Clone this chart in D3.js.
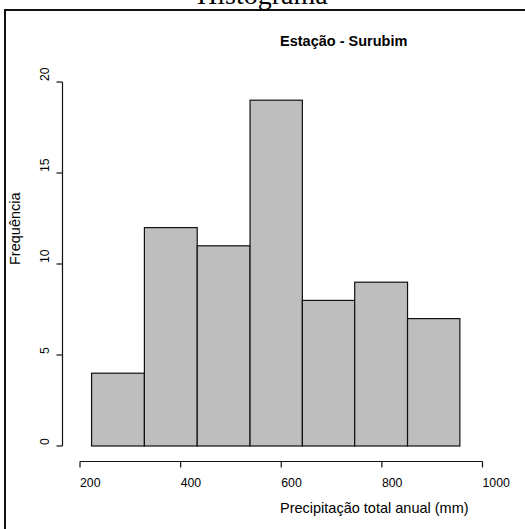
<!DOCTYPE html>
<html>
<head>
<meta charset="utf-8">
<script src="https://cdn.jsdelivr.net/npm/d3@7"></script>
<style>
  html, body { margin: 0; padding: 0; background: #fff; }
  svg { display: block; }
</style>
</head>
<body>
<script>
// Histogram of annual total precipitation, Surubim station
const breaks = [223, 328, 433, 538, 642, 746, 851, 955];
const counts = [4, 12, 11, 19, 8, 9, 7];
const xTicks = [200, 400, 600, 800, 1000];
const yTicks = [0, 5, 10, 15, 20];

const W = 525, H = 529;
const svg = d3.select("body").append("svg").attr("width", W).attr("height", H);

// outer frame (right and bottom sides fall outside the view)
svg.append("path")
  .attr("d", "M5,529 L5,10 L525,10")
  .attr("fill", "none").attr("stroke", "#111").attr("stroke-width", 2);

// page heading, partly clipped at the top
svg.append("text")
  .attr("x", 197).attr("y", 4)
  .attr("font-family", "'Liberation Serif', 'Times New Roman', serif")
  .attr("font-size", 28)
  .attr("fill", "#000")
  .text("Histograma");

const x = d3.scaleLinear().domain([200, 1000]).range([80, 482.5]);
const y = d3.scaleLinear().domain([0, 20]).range([446, 82]);

const bins = counts.map((c, i) => ({ x0: breaks[i], x1: breaks[i + 1], n: c }));

svg.append("g").selectAll("rect").data(bins).join("rect")
  .attr("x", d => x(d.x0))
  .attr("y", d => y(d.n))
  .attr("width", d => x(d.x1) - x(d.x0))
  .attr("height", d => y(0) - y(d.n))
  .attr("fill", "#bebebe")
  .attr("stroke", "#111")
  .attr("stroke-width", 1.2);

const sans = "'Liberation Sans', Arial, sans-serif";

// x axis
const xAxis = svg.append("g").attr("transform", "translate(0,461.5)");
xAxis.append("line")
  .attr("x1", x(xTicks[0])).attr("x2", x(xTicks[xTicks.length - 1]))
  .attr("stroke", "#111").attr("stroke-width", 1.2);
xAxis.selectAll("line.tick").data(xTicks).join("line")
  .attr("class", "tick")
  .attr("x1", d => x(d)).attr("x2", d => x(d))
  .attr("y1", 0).attr("y2", 6)
  .attr("stroke", "#111").attr("stroke-width", 1.2);
xAxis.selectAll("text").data(xTicks).join("text")
  .attr("x", d => x(d)).attr("y", 25.5)
  .attr("font-family", sans).attr("font-size", 12.3).attr("fill", "#000")
  .text(d => d);

// y axis
const yAxis = svg.append("g").attr("transform", "translate(62.5,0)");
yAxis.append("line")
  .attr("y1", y(yTicks[0])).attr("y2", y(yTicks[yTicks.length - 1]))
  .attr("stroke", "#111").attr("stroke-width", 1.2);
yAxis.selectAll("line.tick").data(yTicks).join("line")
  .attr("class", "tick")
  .attr("y1", d => y(d)).attr("y2", d => y(d))
  .attr("x1", 0).attr("x2", -6)
  .attr("stroke", "#111").attr("stroke-width", 1.2);
yAxis.selectAll("text").data(yTicks).join("text")
  .attr("transform", d => `translate(-13.5,${y(d) - 1}) rotate(-90)`)
  .attr("font-family", sans).attr("font-size", 12.3).attr("fill", "#000")
  .text(d => d);

// titles
svg.append("text")
  .attr("x", 280).attr("y", 46)
  .attr("font-family", sans).attr("font-size", 14.5).attr("font-weight", "bold")
  .attr("fill", "#000")
  .text("Estação - Surubim");

svg.append("text")
  .attr("x", 280).attr("y", 513)
  .attr("font-family", sans).attr("font-size", 14.5).attr("fill", "#000")
  .text("Precipitação total anual (mm)");

svg.append("text")
  .attr("transform", "translate(20,265) rotate(-90)")
  .attr("font-family", sans).attr("font-size", 14.5).attr("fill", "#000")
  .text("Frequência");
</script>
</body>
</html>
